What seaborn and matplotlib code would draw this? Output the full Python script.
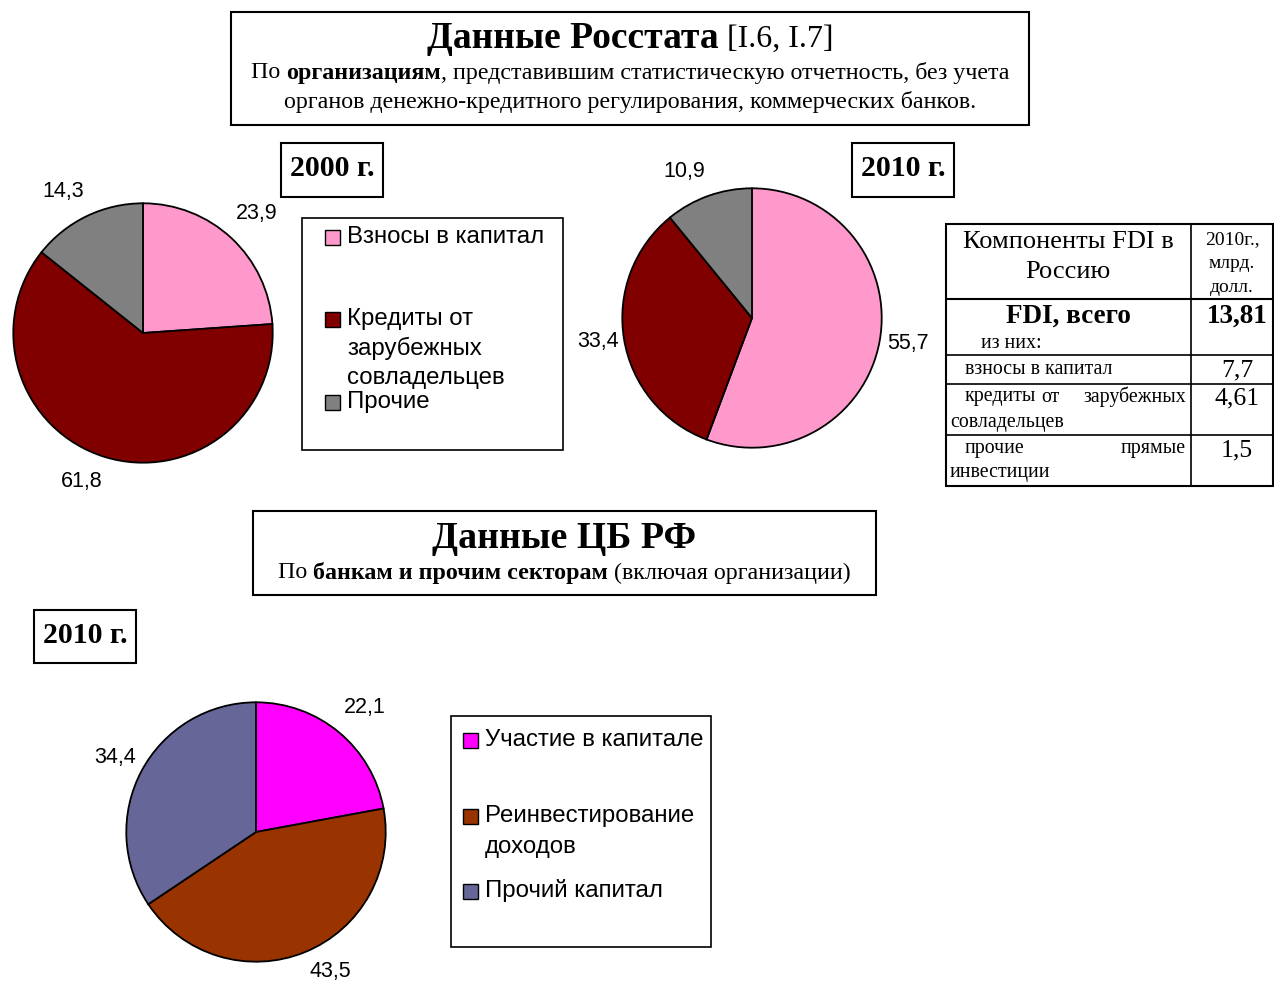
import matplotlib.pyplot as plt
import matplotlib.patches as mpatches
import seaborn as sns

# -----------------------
# Data
# -----------------------
rosstat_labels = ["Взносы в капитал", "Кредиты от\nзарубежных\nсовладельцев", "Прочие"]
rosstat_colors = ["#FF99CC", "#800000", "#808080"]
rosstat_2000 = [23.9, 61.8, 14.3]
rosstat_2010 = [55.7, 33.4, 10.9]

cb_labels = ["Участие в капитале", "Реинвестирование\nдоходов", "Прочий капитал"]
cb_colors = ["#FF00FF", "#993300", "#666699"]
cb_2010 = [22.1, 43.5, 34.4]

table_values = ["13,81", "7,7", "4,61", "1,5"]

W, H = 1274, 983
SANS = "Liberation Sans"
SERIF = "Liberation Serif"

sns.set_style("white")
plt.rcParams["font.family"] = [SANS, "DejaVu Sans"]
plt.rcParams["text.color"] = "black"

fig = plt.figure(figsize=(W / 100, H / 100), dpi=100)
fig.patch.set_facecolor("white")

ov = fig.add_axes([0, 0, 1, 1])
ov.set_xlim(0, W)
ov.set_ylim(H, 0)
ov.axis("off")
ov.patch.set_alpha(0)

fig.canvas.draw()
rend = fig.canvas.get_renderer()


def fmt(v):
    return f"{v:.1f}".replace(".", ",")


def box(x0, y0, x1, y1, lw=1.5):
    ov.add_patch(mpatches.Rectangle((x0, y0), x1 - x0, y1 - y0, fill=False,
                                    edgecolor="black", linewidth=lw))


def rich_line(cx, y, parts):
    # parts: list of (text, weight, size); centred at cx
    tmp = [ov.text(0, 0, p, family=SERIF, fontsize=s, fontweight=w) for p, w, s in parts]
    widths = [t.get_window_extent(renderer=rend).width for t in tmp]
    for t in tmp:
        t.remove()
    x = cx - sum(widths) / 2
    for (p, w, s), wd in zip(parts, widths):
        ov.text(x, y, p, family=SERIF, fontsize=s, fontweight=w, ha="left", va="center")
        x += wd


def pie_at(cx, cy, r, values, colors):
    ax = fig.add_axes([(cx - r) / W, 1 - (cy + r) / H, 2 * r / W, 2 * r / H])
    ax.pie(values, colors=colors, startangle=90, counterclock=False,
           wedgeprops=dict(edgecolor="black", linewidth=1.3))
    ax.set_xlim(-1.01, 1.01)
    ax.set_ylim(-1.01, 1.01)
    ax.set_aspect("equal")
    ax.axis("off")
    return ax


SUB = 17.3

# -----------------------
# Rosstat header
# -----------------------
box(231, 12, 1029, 125)
rich_line(630, 39, [("Данные Росстата", "bold", 27), (" [I.6, I.7]", "normal", 23)])
rich_line(630, 73, [("По ", "normal", SUB), ("организациям", "bold", SUB),
                    (", представившим статистическую отчетность, без учета", "normal", SUB)])
rich_line(630, 102, [("органов денежно-кредитного регулирования, коммерческих банков.",
                      "normal", SUB)])

# -----------------------
# Year boxes
# -----------------------
for (x0, y0, x1, y1), s in zip([(281, 143, 383, 197), (852, 143, 954, 197), (34, 610, 136, 663)],
                               ["2000 г.", "2010 г.", "2010 г."]):
    box(x0, y0, x1, y1)
    ov.text((x0 + x1) / 2, (y0 + y1) / 2 - 1, s,
            family=SERIF, fontweight="bold", fontsize=21.5, ha="center", va="center")

# -----------------------
# Pies
# -----------------------
pie_at(143, 333, 131, rosstat_2000, rosstat_colors)
pie_at(752, 318, 131, rosstat_2010, rosstat_colors)
pie_at(256, 832, 131, cb_2010, cb_colors)

lbl_kw = dict(fontsize=15.5, ha="center", va="center")
for v, (lx, ly) in zip(rosstat_2000, [(257, 214), (82, 482), (63, 192)]):
    ov.text(lx, ly, fmt(v), **lbl_kw)
for v, (lx, ly) in zip(rosstat_2010, [(908, 344), (598, 342), (684, 171)]):
    ov.text(lx, ly, fmt(v), **lbl_kw)
for v, (lx, ly) in zip(cb_2010, [(365, 708), (330, 971), (115, 758)]):
    ov.text(lx, ly, fmt(v), **lbl_kw)

# -----------------------
# Legends
# -----------------------
LEG = 17.3


def legend_entries(x_sq, x_txt, labels, colors, ys, step):
    for lab, c, ly in zip(labels, colors, ys):
        ov.add_patch(mpatches.Rectangle((x_sq, ly - 7.5), 15, 15, facecolor=c,
                                        edgecolor="black", linewidth=1.0))
        for i, part in enumerate(lab.split("\n")):
            ov.text(x_txt, ly + i * step, part, fontsize=LEG, ha="left", va="center")


box(302, 218, 563, 450, lw=1.2)
legend_entries(325, 347, rosstat_labels, rosstat_colors, [237, 319, 402], 29.5)

box(451, 716, 711, 947, lw=1.2)
legend_entries(463, 485, cb_labels, cb_colors, [740, 816, 891], 31)

# -----------------------
# Table
# -----------------------
tx0, tx1, tsplit = 946, 1273, 1191
rows = [224, 299, 355, 384, 435, 486]
ov.add_patch(mpatches.Rectangle((tx0, rows[0]), tx1 - tx0, rows[-1] - rows[0],
                                fill=False, edgecolor="black", linewidth=1.5))
ov.plot([tsplit, tsplit], [rows[0], rows[-1]], color="black", lw=1.2)
for yy in rows[1:-1]:
    ov.plot([tx0, tx1], [yy, yy], color="black", lw=1.5 if yy == 299 else 1.2)

TB = 14.3
ov.text(1068, 242, "Компоненты FDI в", family=SERIF, fontsize=19, ha="center", va="center")
ov.text(1068, 272, "Россию", family=SERIF, fontsize=19, ha="center", va="center")
for s, yy in zip(["2010г.,", "млрд.", "долл."], [240, 264, 287]):
    ov.text(1232, yy, s, family=SERIF, fontsize=14, ha="center", va="center")
ov.text(1068, 316, "FDI, всего", family=SERIF, fontsize=19.5, fontweight="bold",
        ha="center", va="center")
ov.text(981, 343, "из них:", family=SERIF, fontsize=TB, ha="left", va="center")
ov.text(965, 370, "взносы в капитал", family=SERIF, fontsize=TB, ha="left", va="center")
ov.text(965, 397, "кредиты", family=SERIF, fontsize=TB, ha="left", va="center")
ov.text(1050, 397, "от", family=SERIF, fontsize=TB, ha="center", va="center")
ov.text(1186, 397, "зарубежных", family=SERIF, fontsize=TB, ha="right", va="center")
ov.text(950, 422, "совладельцев", family=SERIF, fontsize=TB, ha="left", va="center")
ov.text(965, 449, "прочие", family=SERIF, fontsize=TB, ha="left", va="center")
ov.text(1186, 449, "прямые", family=SERIF, fontsize=TB, ha="right", va="center")
ov.text(950, 472, "инвестиции", family=SERIF, fontsize=TB, ha="left", va="center")

ov.text(1237, 316, table_values[0], family=SERIF, fontsize=19.5, fontweight="bold",
        ha="center", va="center")
for s, yy in zip(table_values[1:], [370, 398, 450]):
    ov.text(1237, yy, s, family=SERIF, fontsize=18.5, ha="center", va="center")

# -----------------------
# CB header
# -----------------------
box(253, 511, 876, 595)
ov.text(564, 539, "Данные ЦБ РФ", family=SERIF, fontweight="bold", fontsize=27.3,
        ha="center", va="center")
rich_line(564, 573, [("По ", "normal", SUB), ("банкам и прочим секторам", "bold", SUB),
                     (" (включая организации)", "normal", SUB)])

fig.savefig("out.png", dpi=100)
